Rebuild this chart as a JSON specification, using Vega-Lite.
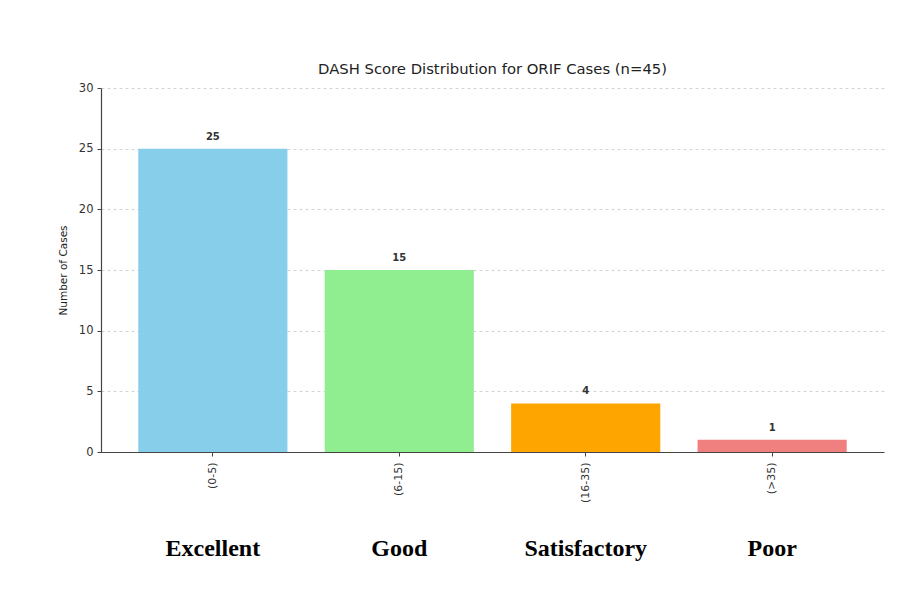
{
  "$schema": "https://vega.github.io/schema/vega-lite/v6.json",
  "autosize": "none",
  "width": 783,
  "height": 364,
  "padding": {"left": 101, "top": 88, "right": 28, "bottom": 137},
  "background": "white",
  "config": {
    "view": {"stroke": null},
    "font": "DejaVu Sans"
  },
  "title": {
    "text": "DASH Score Distribution for ORIF Cases (n=45)",
    "fontSize": 14.8,
    "fontWeight": "normal",
    "font": "DejaVu Sans",
    "color": "#222222",
    "anchor": "middle",
    "offset": 5
  },
  "data": {
    "values": [
      {"range": "(0-5)", "rating": "Excellent", "count": 25},
      {"range": "(6-15)", "rating": "Good", "count": 15},
      {"range": "(16-35)", "rating": "Satisfactory", "count": 4},
      {"range": "(>35)", "rating": "Poor", "count": 1}
    ]
  },
  "layer": [
    {
      "mark": {"type": "bar"},
      "encoding": {
        "x": {
          "field": "range",
          "type": "nominal",
          "sort": null,
          "scale": {"type": "band", "paddingInner": 0.2, "paddingOuter": 0.2},
          "axis": {
            "title": null,
            "labelAngle": -90,
            "labelAlign": "right",
            "labelBaseline": "middle",
            "labelFont": "DejaVu Sans",
            "labelFontSize": 11,
            "labelColor": "#333333",
            "labelPadding": 6,
            "tickSize": 4,
            "tickColor": "#444444",
            "domainColor": "#444444",
            "domainWidth": 1.2,
            "grid": false
          }
        },
        "y": {
          "field": "count",
          "type": "quantitative",
          "scale": {"domain": [0, 30]},
          "axis": {
            "title": "Number of Cases",
            "titleFont": "DejaVu Sans",
            "titleFontSize": 10.5,
            "titleFontWeight": "normal",
            "titleColor": "#222222",
            "titlePadding": 10,
            "values": [0, 5, 10, 15, 20, 25, 30],
            "labelFont": "DejaVu Sans",
            "labelFontSize": 11.5,
            "labelColor": "#333333",
            "labelPadding": 4,
            "tickSize": 4,
            "tickColor": "#444444",
            "domainColor": "#444444",
            "domainWidth": 1.2,
            "grid": true,
            "gridColor": "#c8c8c8",
            "gridDash": [3, 3],
            "gridWidth": 0.8
          }
        },
        "color": {
          "field": "range",
          "type": "nominal",
          "sort": null,
          "scale": {
            "domain": ["(0-5)", "(6-15)", "(16-35)", "(>35)"],
            "range": ["#87CEEB", "#90EE90", "#FFA500", "#F08080"]
          },
          "legend": null
        }
      }
    },
    {
      "mark": {"type": "text", "dy": -12, "fontSize": 10, "fontWeight": "bold", "color": "#333333", "font": "DejaVu Sans"},
      "encoding": {
        "x": {
          "field": "rating",
          "type": "nominal",
          "sort": null,
          "scale": {"type": "band", "paddingInner": 0.2, "paddingOuter": 0.2},
          "axis": {
            "title": null,
            "orient": "bottom",
            "offset": 78,
            "domain": false,
            "ticks": false,
            "grid": false,
            "labelAngle": 0,
            "labelFont": "Liberation Serif",
            "labelFontWeight": "bold",
            "labelFontSize": 24,
            "labelColor": "#000000",
            "labelPadding": 6,
            "labelBaseline": "top"
          }
        },
        "y": {"field": "count", "type": "quantitative"},
        "text": {"field": "count", "type": "quantitative"}
      }
    }
  ],
  "resolve": {"scale": {"x": "independent"}}
}
